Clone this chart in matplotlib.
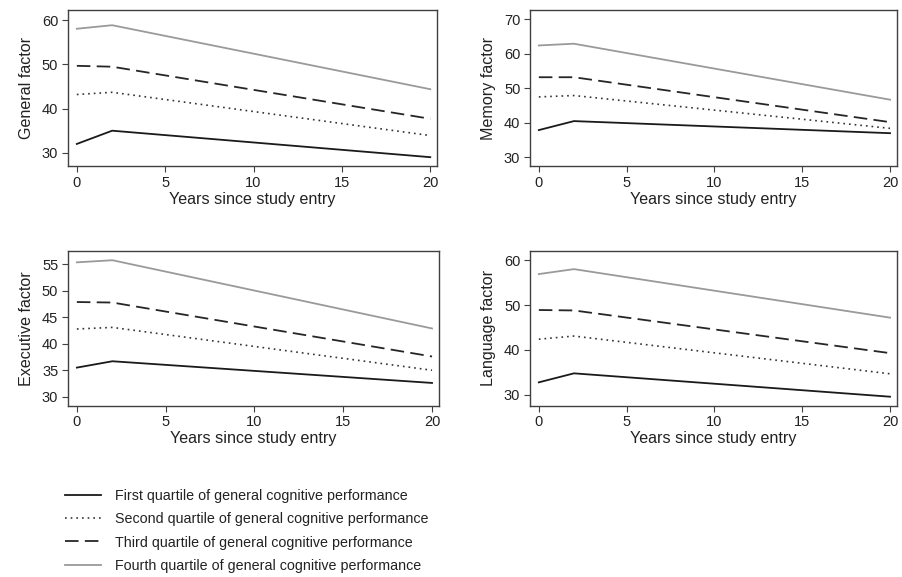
"""
Trajectories of cognitive factor scores by quartile of baseline general cognitive performance.
"""

import matplotlib
matplotlib.use("Agg")
import matplotlib.pyplot as plt

plt.rcParams["font.family"] = ["Liberation Sans", "DejaVu Sans"]

years = [0, 2, 20]

general_q1 = [32.0, 35.0, 29.0]
general_q2 = [43.2, 43.7, 33.9]
general_q3 = [49.7, 49.5, 37.7]
general_q4 = [58.1, 58.9, 44.4]

memory_q1 = [37.9, 40.5, 37.0]
memory_q2 = [47.5, 47.9, 38.4]
memory_q3 = [53.2, 53.2, 40.2]
memory_q4 = [62.4, 62.9, 46.7]

executive_q1 = [35.5, 36.7, 32.6]
executive_q2 = [42.8, 43.1, 35.0]
executive_q3 = [47.9, 47.8, 37.6]
executive_q4 = [55.4, 55.8, 42.9]

language_q1 = [32.8, 34.8, 29.6]
language_q2 = [42.4, 43.1, 34.7]
language_q3 = [48.9, 48.8, 39.3]
language_q4 = [56.9, 58.0, 47.2]

legend_labels = [
    "First quartile of general cognitive performance",
    "Second quartile of general cognitive performance",
    "Third quartile of general cognitive performance",
    "Fourth quartile of general cognitive performance",
]

x_ticks = [0, 5, 10, 15, 20]

panels = [
    ("General factor", [general_q1, general_q2, general_q3, general_q4],
     [30, 40, 50, 60], (27.0, 62.3), [0.0753, 0.7123, 0.409, 0.270]),
    ("Memory factor", [memory_q1, memory_q2, memory_q3, memory_q4],
     [30, 40, 50, 60, 70], (27.5, 72.6), [0.587, 0.7123, 0.4064, 0.270]),
    ("Executive factor", [executive_q1, executive_q2, executive_q3, executive_q4],
     [30, 35, 40, 45, 50, 55], (28.3, 57.6), [0.0753, 0.2969, 0.411, 0.2686]),
    ("Language factor", [language_q1, language_q2, language_q3, language_q4],
     [30, 40, 50, 60], (27.6, 62.1), [0.587, 0.2969, 0.4064, 0.2686]),
]

styles = [
    dict(color="#1a1a1a", linestyle="-", linewidth=1.3),
    dict(color="#333333", linestyle=(0, (1, 2.4)), linewidth=1.2),
    dict(color="#262626", linestyle=(0, (7.5, 3.5)), linewidth=1.3),
    dict(color="#9a9a9a", linestyle="-", linewidth=1.3),
]

fig = plt.figure(figsize=(9.03, 5.77), dpi=100)
frame_color = "#404040"

handles = []
for ylabel, series, y_ticks, ylim, pos in panels:
    ax = fig.add_axes(pos)
    lines = []
    for values, style in zip(series, styles):
        (ln,) = ax.plot(years, values, **style)
        lines.append(ln)
    handles = lines
    ax.set_xlim(-0.5, 20.4)
    ax.set_ylim(*ylim)
    ax.set_xticks(x_ticks)
    ax.set_yticks(y_ticks)
    ax.set_xlabel("Years since study entry", fontsize=11.6, color="#222222", labelpad=1.5)
    ax.set_ylabel(ylabel, fontsize=11.6, color="#222222", labelpad=6)
    ax.tick_params(labelsize=10.5, colors="#222222", length=4.5, width=0.8, pad=2.5)
    ax.tick_params(axis="both", color=frame_color)
    for spine in ax.spines.values():
        spine.set_color(frame_color)
        spine.set_linewidth(1.0)

fig.legend(
    handles, legend_labels, loc="upper left", bbox_to_anchor=(0.058, 0.174),
    frameon=False, fontsize=10.3, handlelength=2.5, handletextpad=1.0,
    labelspacing=0.63, labelcolor="#222222",
)

fig.savefig("out.png", dpi=100)
plt.close(fig)
